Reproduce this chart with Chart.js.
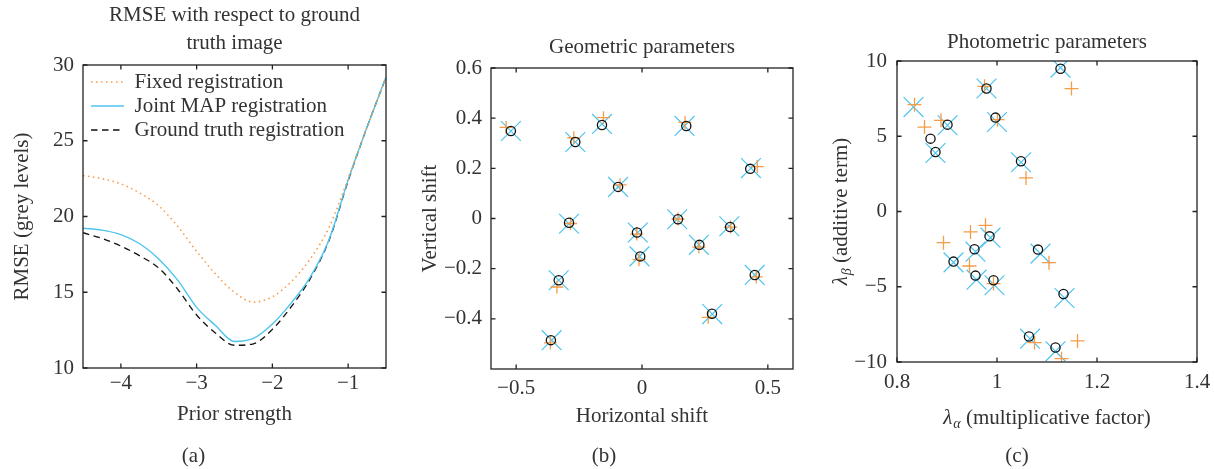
<!DOCTYPE html>
<html><head><meta charset="utf-8">
<script src="https://cdn.jsdelivr.net/npm/chart.js@4.4.1/dist/chart.umd.min.js"></script>
<style>
html,body{margin:0;padding:0;background:#fff;}
body{width:1214px;height:469px;position:relative;overflow:hidden;}
canvas{position:absolute;top:0;}
</style></head><body>
<canvas id="ca" width="400" height="469" style="left:0px"></canvas>
<canvas id="cb" width="415" height="469" style="left:400px"></canvas>
<canvas id="cc" width="414" height="469" style="left:800px"></canvas>
<script>
// ---------- Panel (a) data ----------
const priorStrength   = [-4.5,-4.25,-4,-3.75,-3.5,-3.25,-3,-2.75,-2.5,-2.25,-2,-1.75,-1.5,-1.25,-1,-0.75,-0.5];
const rmseFixed       = [22.7,22.5,22.15,21.55,20.7,19.35,17.7,16.2,15.0,14.35,14.7,15.7,17.2,19.3,22.5,25.9,29.2];
const rmseJointMAP    = [19.22,19.1,18.8,18.2,17.2,15.8,14.0,12.8,11.75,11.95,12.9,14.3,16.0,18.5,22.4,25.9,29.2];
const rmseGroundTruth = [18.93,18.55,18.05,17.4,16.6,15.2,13.5,12.3,11.5,11.6,12.55,14.05,15.9,18.45,22.35,25.9,29.2];
const seriesNames = ['Fixed registration','Joint MAP registration','Ground truth registration'];
const aXTicks = [-4,-3,-2,-1];      const aXTickLabels = ['−4','−3','−2','−1'];
const aYTicks = [10,15,20,25,30];   const aYTickLabels = ['10','15','20','25','30'];

// ---------- Panel (b) data ----------
const geoTruthX = [-0.521,-0.265,-0.159,0.176,0.430,-0.095,-0.290,-0.020,0.143,-0.007,0.228,0.350,-0.331,0.448,0.278,-0.362];
const geoTruthY = [0.349,0.305,0.373,0.369,0.198,0.126,-0.017,-0.056,-0.003,-0.151,-0.105,-0.034,-0.246,-0.225,-0.380,-0.485];
const geoJointX = [-0.521,-0.265,-0.159,0.169,0.433,-0.095,-0.290,-0.017,0.140,-0.010,0.226,0.347,-0.331,0.448,0.279,-0.359];
const geoJointY = [0.349,0.305,0.377,0.369,0.201,0.126,-0.021,-0.056,-0.003,-0.151,-0.105,-0.031,-0.246,-0.225,-0.381,-0.485];
const geoFixedX = [-0.540,-0.271,-0.153,0.171,0.458,-0.087,-0.284,-0.021,0.143,-0.012,0.226,0.352,-0.338,0.454,0.263,-0.364];
const geoFixedY = [0.363,0.322,0.402,0.383,0.207,0.134,-0.020,-0.062,-0.002,-0.164,-0.114,-0.034,-0.273,-0.233,-0.394,-0.496];
const bXTicks = [-0.5,0,0.5];                 const bXTickLabels = ['−0.5','0','0.5'];
const bYTicks = [-0.4,-0.2,0,0.2,0.4,0.6];    const bYTickLabels = ['−0.4','−0.2','0','0.2','0.4','0.6'];

// ---------- Panel (c) data ----------
const phoTruthX = [1.127,0.979,0.997,0.901,0.867,0.877,1.048,0.985,0.955,1.082,0.913,0.957,0.993,1.133,1.064,1.117];
const phoTruthY = [9.49,8.17,6.24,5.77,4.84,3.95,3.34,-1.65,-2.51,-2.53,-3.33,-4.26,-4.57,-5.48,-8.31,-9.04];
const phoJointX = [0.833,0.979,1.127,1.000,0.901,0.877,1.048,0.987,0.957,1.087,0.913,0.959,0.995,1.135,1.066,1.117];
const phoJointY = [6.94,8.17,9.56,5.95,5.73,3.89,3.27,-1.74,-2.67,-2.80,-3.38,-4.53,-4.90,-5.75,-8.45,-9.29];
const phoFixedX = [0.835,0.855,0.888,0.975,1.149,1.001,1.058,0.893,0.947,0.977,0.945,0.993,1.104,1.075,1.161,1.129];
const phoFixedY = [7.10,5.61,6.06,8.32,8.17,6.10,2.23,-2.07,-1.36,-0.92,-3.62,-4.79,-3.40,-8.71,-8.60,-9.78];
const cXTicks = [0.8,1,1.2,1.4];     const cXTickLabels = ['0.8','1','1.2','1.4'];
const cYTicks = [-10,-5,0,5,10];     const cYTickLabels = ['−10','−5','0','5','10'];

// ---------- Texts ----------
const titleA = ['RMSE with respect to ground','truth image'];
const titleB = 'Geometric parameters';
const titleC = 'Photometric parameters';
const xTitleA = 'Prior strength', yTitleA = 'RMSE (grey levels)';
const xTitleB = 'Horizontal shift', yTitleB = 'Vertical shift';
const xTitleC = ['λ','α',' (multiplicative factor)'];
const yTitleC = ['λ','β',' (additive term)'];

// ---------- Styles ----------
const FONT = "'Liberation Serif','Times New Roman',serif";
const FS = 21;
const TEXT = '#333333', ORANGE = '#F59C48', BLUE = '#4EC4EE', BLACK = '#111111', FRAME = '#222222';
Chart.defaults.font.family = FONT;
Chart.defaults.font.size = FS;
Chart.defaults.font.weight = 'normal';
Chart.defaults.color = TEXT;

const pts = (xs, ys) => xs.map((x, i) => ({x, y: ys[i]}));

function axis(o) {
  return {
    type: 'linear', min: o.min, max: o.max,
    grid: {display: false, drawTicks: false},
    border: {display: false},
    afterBuildTicks: s => { s.ticks = o.values.map(v => ({value: v})); },
    ticks: {padding: o.pad, autoSkip: false, maxRotation: 0, callback: (v, i) => o.labels[i]},
    title: o.title ? {display: true, text: o.title, padding: o.titlePad, font: {size: FS, weight: 'normal'}} : {display: false},
    afterFit: s => {
      if (o.width != null) s.width = o.width;
      if (o.height != null) s.height = o.height;
      s.paddingLeft = s.paddingRight = s.paddingTop = s.paddingBottom = 0;
    }
  };
}

const frameTicks = {
  id: 'frameTicks',
  afterDatasetsDraw(chart) {
    const {ctx, chartArea: a, scales: {x, y}} = chart;
    const L = 4.5;
    ctx.save();
    ctx.strokeStyle = FRAME; ctx.lineWidth = 1.3; ctx.setLineDash([]);
    ctx.strokeRect(a.left, a.top, a.right - a.left, a.bottom - a.top);
    ctx.beginPath();
    x.ticks.forEach(t => { const p = x.getPixelForValue(t.value);
      ctx.moveTo(p, a.bottom); ctx.lineTo(p, a.bottom - L);
      ctx.moveTo(p, a.top); ctx.lineTo(p, a.top + L); });
    y.ticks.forEach(t => { const p = y.getPixelForValue(t.value);
      ctx.moveTo(a.left, p); ctx.lineTo(a.left + L, p);
      ctx.moveTo(a.right, p); ctx.lineTo(a.right - L, p); });
    ctx.stroke();
    ctx.restore();
  }
};

function subTitle(t) {
  return {display: true, text: t, position: 'bottom', fullSize: true, padding: {top: 0, bottom: 0}, font: {size: FS, weight: 'normal'}, color: TEXT};
}

// ---------- Panel (a) ----------
new Chart(document.getElementById('ca'), {
  type: 'line',
  data: {datasets: [
    {label: seriesNames[0], data: pts(priorStrength, rmseFixed), borderColor: ORANGE, borderWidth: 1.6,
     borderDash: [1.5, 3.5], pointRadius: 0, cubicInterpolationMode: 'monotone'},
    {label: seriesNames[1], data: pts(priorStrength, rmseJointMAP), borderColor: BLUE, borderWidth: 1.4,
     pointRadius: 0, cubicInterpolationMode: 'monotone'},
    {label: seriesNames[2], data: pts(priorStrength, rmseGroundTruth), borderColor: BLACK, borderWidth: 1.3,
     borderDash: [6.5, 4.5], pointRadius: 0, cubicInterpolationMode: 'monotone'}
  ]},
  options: {
    responsive: false, animation: false, events: [], devicePixelRatio: 1,
    layout: {padding: {left: 1, right: 14, top: 0, bottom: 0}},
    plugins: {
      tooltip: {enabled: false},
      title: {display: true, text: titleA, fullSize: false, font: {size: FS, weight: 'normal', lineHeight: 28 / FS}, padding: {top: 1, bottom: 8}, color: TEXT},
      subtitle: subTitle('(a)'),
      legend: {
        display: true, position: 'chartArea', align: 'start',
        labels: {
          usePointStyle: true, pointStyle: 'line', pointStyleWidth: 33, padding: 3,
          font: {size: FS, weight: 'normal'}, color: TEXT,
          generateLabels: chart => Chart.defaults.plugins.legend.labels.generateLabels(chart).map(l => {
            const ds = chart.data.datasets[l.datasetIndex];
            return Object.assign(l, {lineDash: ds.borderDash || [], lineWidth: ds.borderWidth, strokeStyle: ds.borderColor});
          })
        }
      }
    },
    scales: {
      x: axis({min: -4.5, max: -0.5, values: aXTicks, labels: aXTickLabels, pad: 3, height: 75.8, title: xTitleA, titlePad: {top: 0, bottom: 17.2}}),
      y: axis({min: 10, max: 30, values: aYTicks, labels: aYTickLabels, pad: 9, width: 82, title: yTitleA, titlePad: {top: 8.4, bottom: 0}})
    }
  },
  plugins: [frameTicks, {
    id: 'legendPlace',
    afterLayout(chart) {
      const a = chart.chartArea, lg = chart.legend;
      if (lg) { lg.left = a.left + 5; lg.top = a.top + 3.5; lg.right = a.right; lg.bottom = a.bottom; }
    }
  }]
});

// ---------- Scatter panels ----------
function scatterSets(tx, ty, jx, jy, fx, fy, plusR) {
  return [
    {label: 'Ground truth', data: pts(tx, ty), pointStyle: 'circle', pointRadius: 4.6, borderWidth: 1.3,
     borderColor: BLACK, backgroundColor: 'rgba(0,0,0,0)'},
    {label: 'Fixed registration', data: pts(fx, fy), pointStyle: 'cross', pointRadius: plusR, borderWidth: 1.3,
     borderColor: ORANGE, backgroundColor: ORANGE},
    {label: 'Joint MAP registration', data: pts(jx, jy), pointStyle: 'crossRot', pointRadius: 14, borderWidth: 1.2,
     borderColor: BLUE, backgroundColor: BLUE}
  ];
}

new Chart(document.getElementById('cb'), {
  type: 'scatter',
  data: {datasets: scatterSets(geoTruthX, geoTruthY, geoJointX, geoJointY, geoFixedX, geoFixedY, 6.5)},
  options: {
    responsive: false, animation: false, events: [], devicePixelRatio: 1,
    layout: {padding: {left: 15, right: 22, top: 0, bottom: 0}},
    plugins: {
      tooltip: {enabled: false}, legend: {display: false},
      title: {display: true, text: titleB, fullSize: false, font: {size: FS, weight: 'normal'}, padding: {top: 34.4, bottom: 8.4}, color: TEXT},
      subtitle: subTitle('(b)')
    },
    scales: {
      x: axis({min: -0.6, max: 0.6, values: bXTicks, labels: bXTickLabels, pad: 6.7, height: 74.8, title: xTitleB, titlePad: {top: 0, bottom: 14.5}}),
      y: axis({min: -0.6, max: 0.6, values: bYTicks, labels: bYTickLabels, pad: 9, width: 76, title: yTitleB, titlePad: {top: 2.9, bottom: 0}})
    }
  },
  plugins: [frameTicks]
});

function mathLabel(ctx, cx, cy, rot, parts) {
  const fIt = 'italic ' + FS + 'px ' + FONT, fSub = 'italic 14px ' + FONT, fMain = FS + 'px ' + FONT;
  ctx.save();
  ctx.translate(cx, cy); ctx.rotate(rot);
  ctx.fillStyle = TEXT; ctx.textBaseline = 'alphabetic'; ctx.textAlign = 'left';
  ctx.font = fIt; const w1 = ctx.measureText(parts[0]).width;
  ctx.font = fSub; const w2 = ctx.measureText(parts[1]).width;
  ctx.font = fMain; const w3 = ctx.measureText(parts[2]).width;
  let x = -(w1 + w2 + w3 + 1) / 2; const base = 7;
  ctx.font = fIt; ctx.fillText(parts[0], x, base); x += w1 + 1;
  ctx.font = fSub; ctx.fillText(parts[1], x, base + 4); x += w2;
  ctx.font = fMain; ctx.fillText(parts[2], x, base);
  ctx.restore();
}

new Chart(document.getElementById('cc'), {
  type: 'scatter',
  data: {datasets: scatterSets(phoTruthX, phoTruthY, phoJointX, phoJointY, phoFixedX, phoFixedY, 7)},
  options: {
    responsive: false, animation: false, events: [], devicePixelRatio: 1,
    layout: {padding: {left: 37, right: 17, top: 0, bottom: 0}},
    plugins: {
      tooltip: {enabled: false}, legend: {display: false},
      title: {display: true, text: titleC, fullSize: false, font: {size: FS, weight: 'normal'}, padding: {top: 29.4, bottom: 6.4}, color: TEXT},
      subtitle: subTitle('(c)')
    },
    scales: {
      x: axis({min: 0.8, max: 1.4, values: cXTicks, labels: cXTickLabels, pad: 7.4, height: 81.8}),
      y: axis({min: -10, max: 10, values: cYTicks, labels: cYTickLabels, pad: 10, width: 60})
    }
  },
  plugins: [frameTicks, {
    id: 'mathTitles',
    afterDraw(chart) {
      const a = chart.chartArea, ctx = chart.ctx;
      mathLabel(ctx, (a.left + a.right) / 2, 417, 0, xTitleC);
      mathLabel(ctx, 40, (a.top + a.bottom) / 2, -Math.PI / 2, yTitleC);
    }
  }]
});
</script>
</body></html>
